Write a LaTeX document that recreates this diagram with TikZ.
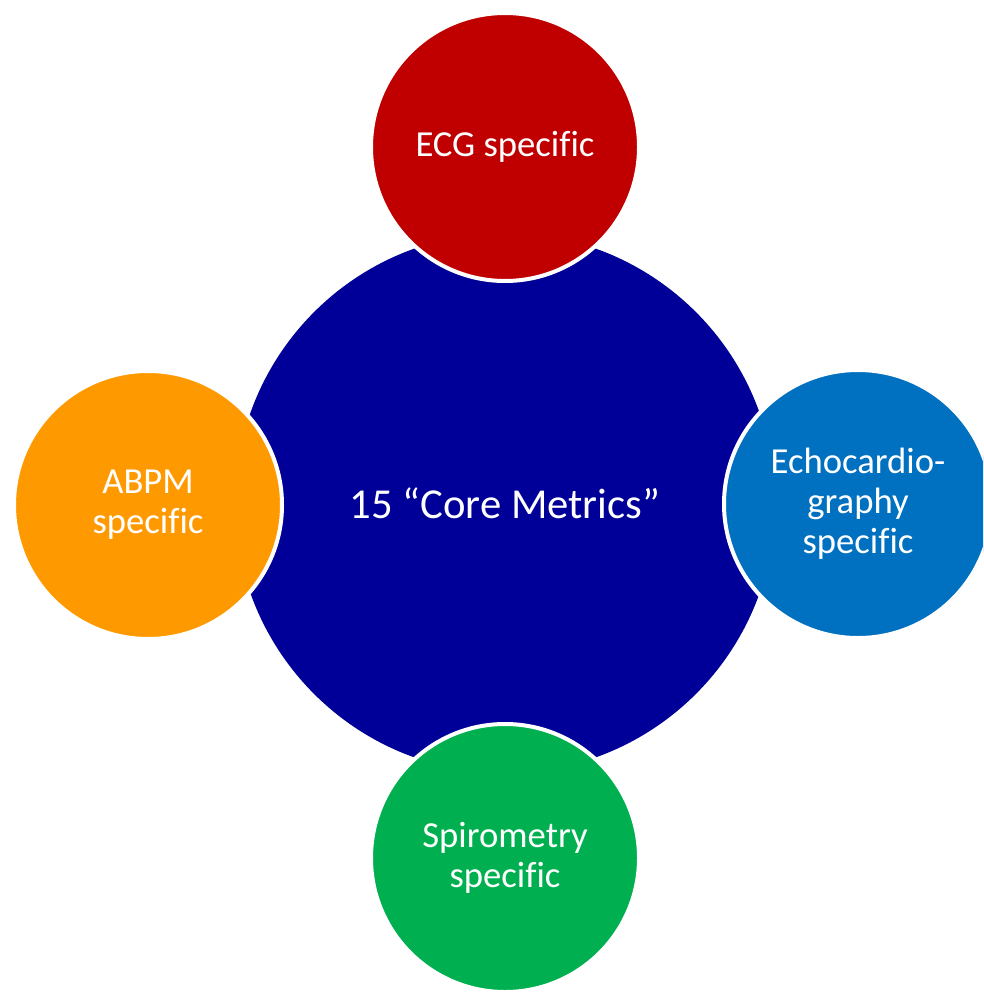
\documentclass[tikz,border=0pt]{standalone}
\usepackage{fontspec}
\setmainfont[Ligatures=NoCommon]{Carlito}
\usetikzlibrary{positioning}
\definecolor{coreblue}{HTML}{000099}
\definecolor{ecgred}{HTML}{C00000}
\definecolor{echoblue}{HTML}{0070C0}
\definecolor{abpmorange}{HTML}{FF9900}
\definecolor{spirogreen}{HTML}{00B050}

\begin{document}
\begin{tikzpicture}[x=0.75pt,y=-0.75pt,font=\fontsize{27.5}{30}\selectfont]

\tikzset{corenode/.style={shape=circle,fill=coreblue,text=white,inner sep=0pt,minimum size=405pt,align=center,font=\fontsize{32}{36}\selectfont},
satnode/.style={shape=circle,draw=white,line width=3pt,text=white,inner sep=0pt,minimum size=201pt,align=center},
ecgnode/.style={satnode,fill=ecgred},
echonode/.style={satnode,fill=echoblue},
abpmnode/.style={satnode,fill=abpmorange},
spironode/.style={satnode,fill=spirogreen}}

% Frame
\clip (0,0) rectangle (983,995);

% Core metrics
\node[corenode] (core) at (505,503) {15 “Core Metrics”};

% Modality specific nodes
\node[ecgnode] (ecg) at (505,147) {ECG specific};
\node[echonode] (echo) at (858,504) {Echocardio-\\graphy\\specific};
\node[abpmnode] (abpm) at (148,505) {ABPM\\specific};
\node[spironode] (spiro) at (505,858) {Spirometry\\specific};

\end{tikzpicture}
\end{document}
